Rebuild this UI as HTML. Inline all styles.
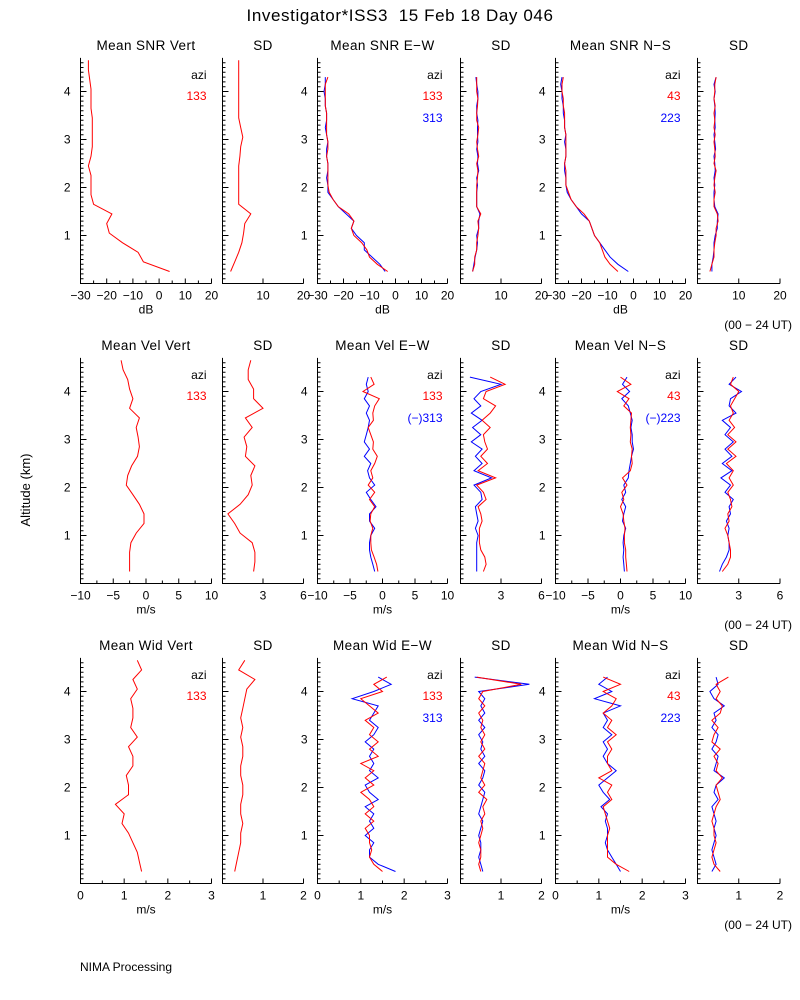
<!DOCTYPE html>
<html><head><meta charset="utf-8">
<style>
html,body{margin:0;padding:0;background:#fff;}
svg{display:block;font-family:"Liberation Sans",sans-serif;}
</style></head>
<body>
<svg id="chart" width="800" height="1000" viewBox="0 0 800 1000" xmlns="http://www.w3.org/2000/svg">
<rect width="800" height="1000" fill="#fff"/>
<text x="400" y="21" font-size="17" text-anchor="middle" letter-spacing="0.6" style="white-space:pre">Investigator*ISS3  15 Feb 18 Day 046</text>
<text x="30" y="490" font-size="13" text-anchor="middle" transform="rotate(-90 30 490)">Altitude (km)</text>
<text x="80" y="971" font-size="12">NIMA Processing</text>
</svg>
<script>
// altitude categories (km)
const altV = [0.25,0.45,0.65,0.85,1.05,1.25,1.45,1.65,1.85,2.05,2.25,2.45,2.65,2.85,3.05,3.25,3.45,3.65,3.85,4.05,4.25,4.45,4.65];
const altO = [0.25,0.4,0.55,0.7,0.85,1.0,1.15,1.3,1.45,1.6,1.75,1.9,2.05,2.2,2.35,2.5,2.65,2.8,2.95,3.1,3.25,3.4,3.55,3.7,3.85,4.0,4.15,4.3];

// Row 1: SNR (dB) and SD
const snrVert = [4,-6,-8,-14,-19,-20,-18,-25,-26,-26,-26,-27,-26,-25.5,-25.5,-25.5,-25.5,-26,-26,-26,-26.5,-27,-27];
const snrVertSD = [2,3,4,4.8,5.2,5.5,7,4,4,4,4,4,4.3,4.5,5,4.5,4,4,4,4,4,4,4];
const snrEW133 = [-3,-7,-10,-11,-13,-16,-17,-16,-18,-22,-24,-25.5,-26,-26,-26,-26,-26.5,-26,-26,-26.5,-26.5,-26.5,-26.5,-27,-27,-27,-27,-26];
const snrEW313 = [-4,-6,-9,-12,-12,-15,-17,-16,-19,-22,-24,-26,-26,-26.5,-26,-26,-26.5,-26.5,-26,-26.5,-27,-26.5,-26.5,-27,-27,-27.5,-27,-27];
const snrEWsd133 = [3,3.5,3.5,4,4,4.3,4.5,4.3,5,4,4,4,4,4.2,4.3,4,4.5,4.2,4,4.3,4.5,4,4,4.2,4.3,4,4,4];
const snrEWsd313 = [3,3.3,3.6,4,4.2,4,4.5,4.5,4.8,4,4,4,4.2,4,4.5,4.2,4.3,4,4.3,4.2,4.2,4.3,4,4,4.3,4.3,4,3.8];
const snrNS43 = [-6,-9,-11,-12,-13,-15,-16,-17,-19,-22,-24,-25,-26,-26,-26,-26.5,-26,-26,-26,-26,-26.5,-26.5,-26.5,-27,-27,-27.5,-27.5,-27];
const snrNS223 = [-2,-6,-9,-11,-13,-15,-16,-17,-20,-22,-24,-25.5,-26,-26,-26.5,-26.5,-26,-26,-26.5,-26,-26.5,-26.5,-27,-27,-27.5,-27.5,-28,-27.5];
const snrNSsd43 = [3,3.5,4,4,4.2,4.5,4.5,5,4.8,4,4,4.3,4,4.2,4.5,4,4.3,4.2,4,4.3,4,4.2,4,4.3,4,4.2,4.2,4.5];
const snrNSsd223 = [3.5,3.5,3.8,4,4,4.3,4.8,4.8,5,4.2,4,4,4.2,4,4.3,4.2,4,4.4,4.2,4,4.3,4.2,4.3,4.2,4,4.3,4,4.5];

// Row 2: velocity (m/s)
const velVert = [-2.5,-2.5,-2.5,-2.3,-1.5,-0.3,-0.3,-1,-2,-3,-2.8,-2.2,-1.3,-1,-1.2,-1.5,-1,-2.5,-2,-2.5,-2.8,-3.5,-3.8];
const velVertSD = [2.3,2.4,2.4,2.2,1.3,0.9,0.4,1.3,1.9,2.2,2.1,2.4,1.7,1.8,1.6,2.2,1.7,3,2.3,2.3,1.9,1.9,2.1];
const velEW133 = [-0.7,-0.9,-1.3,-1.7,-1.8,-1.8,-1.5,-1.9,-1.8,-1.2,-2,-1.2,-2.2,-1.5,-1.8,-1.2,-0.8,-1.5,-1.4,-1.8,-2.2,-1.4,-1.5,-1.2,-0.5,-3,-1.3,-1.8];
const velEW313 = [-1.2,-1.5,-1.8,-2,-2,-1.8,-1.2,-2,-2,-1,-1.8,-2.5,-1.2,-2,-2.3,-1.8,-2.8,-2,-2.8,-2.5,-2.2,-2,-2.5,-2,-2.8,-2.2,-2.5,-2.2];
const velEWsd133 = [1.7,1.9,1.8,1.5,1.4,1.4,1.4,1.6,1.5,1.3,1.9,1.7,1.2,2.6,1.3,2,1.5,2,1.8,1.7,2.2,1.6,2.2,2.6,1.7,1.9,3.3,2.2];
const velEWsd313 = [1.2,1.2,1.2,1.2,1.2,1.3,1.1,1.3,1.2,1.1,1.6,1.5,1,2.3,1,1.6,1.1,1.6,0.8,1.5,0.9,1.6,0.8,1.5,1,1.5,3,0.7];
const velNS43 = [1,0.9,0.8,0.8,0.6,0.6,0.7,0.5,0.4,0,0.5,0.2,1,0.3,1.5,1.8,1.7,1.8,1.5,1.6,1.5,1.6,1.7,0.5,1.3,-0.5,1.6,0];
const velNS223 = [0.6,0.5,0.4,0.5,0.4,0.5,0.8,0.3,0.5,0.8,0.2,0.8,0.5,1.2,1.3,1.5,1.7,2,1.8,1.8,1.6,1.8,1.5,1.2,0.2,1.4,0.3,1];
const velNSsd43 = [1.8,2.2,2.4,2.4,2.3,2.2,2,2.3,2.2,2.5,2.4,2.2,2.6,2.3,2.6,2.1,2.8,2.2,2.8,2.2,2.7,2.3,2.6,2.4,2.7,3,2.4,2.6];
const velNSsd223 = [1.6,1.8,2.1,2.3,2.3,2.2,2.3,2.1,2.4,2.3,2.6,2,2.4,1.7,2.5,1.8,2.5,2,2.6,2,2.4,1.8,2.8,2.3,2.4,3.2,2.3,2.8];

// Row 3: spectral width (m/s)
const widVert = [1.4,1.35,1.3,1.2,1.1,0.95,1.0,0.8,1.1,1.1,1.05,1.2,1.2,1.1,1.3,1.15,1.2,1.2,1.15,1.3,1.2,1.4,1.3];
const widVertSD = [0.3,0.35,0.4,0.45,0.45,0.5,0.45,0.45,0.5,0.5,0.45,0.45,0.5,0.5,0.45,0.5,0.45,0.5,0.55,0.6,0.8,0.4,0.55];
const widEW133 = [1.5,1.3,1.2,1.25,1.2,1.2,1.1,1.3,1.1,1.3,1.2,1.0,1.3,1.1,1.3,1.0,1.4,1.2,1.4,1.2,1.3,1.1,1.4,1.2,1.0,1.5,1.3,1.6];
const widEW313 = [1.8,1.4,1.2,1.2,1.3,1.1,1.3,1.2,1.3,1.1,1.4,1.2,1.1,1.4,1.2,1.3,1.2,1.3,1.1,1.3,1.4,1.2,1.3,1.4,0.8,1.3,1.7,1.4];
const widEWsd133 = [0.5,0.45,0.5,0.5,0.45,0.5,0.55,0.5,0.6,0.55,0.65,0.45,0.6,0.5,0.55,0.6,0.45,0.6,0.5,0.6,0.5,0.55,0.45,0.6,0.45,0.55,1.5,0.4];
const widEWsd313 = [0.55,0.5,0.45,0.5,0.5,0.45,0.5,0.55,0.45,0.5,0.55,0.6,0.45,0.55,0.6,0.45,0.6,0.5,0.55,0.45,0.6,0.45,0.6,0.5,0.6,0.45,1.7,0.35];
const widNS43 = [1.7,1.4,1.2,1.2,1.2,1.2,1.25,1.2,1.15,1.1,1.3,1.2,1.3,1.0,1.3,1.2,1.2,1.3,1.2,1.4,1.2,1.3,1.1,1.3,1.4,1.1,1.5,1.1];
const widNS223 = [1.5,1.4,1.3,1.2,1.15,1.2,1.2,1.15,1.2,1.05,1.25,1.1,1.0,1.2,1.4,1.2,1.1,1.2,1.1,1.3,1.1,1.2,1.1,1.5,0.9,1.3,1.0,1.2];
const widNSsd43 = [0.55,0.4,0.35,0.4,0.45,0.4,0.4,0.35,0.4,0.45,0.55,0.5,0.45,0.6,0.45,0.5,0.4,0.55,0.35,0.4,0.5,0.35,0.55,0.6,0.45,0.55,0.45,0.75];
const widNSsd223 = [0.35,0.45,0.4,0.35,0.4,0.45,0.4,0.45,0.4,0.35,0.5,0.4,0.45,0.65,0.4,0.45,0.5,0.35,0.45,0.5,0.35,0.45,0.4,0.65,0.4,0.3,0.5,0.45];

const xTicks1 = [-30,-20,-10,0,10,20];
const sdTicks1 = [10,20];
const xTicks2 = [-10,-5,0,5,10];
const sdTicks2 = [3,6];
const xTicks3 = [0,1,2,3];
const sdTicks3 = [1,2];

const NS = 'http://www.w3.org/2000/svg';
const svg = document.getElementById('chart');
function mk(tag, attrs, parent){
  const e = document.createElementNS(NS, tag);
  for (const k in attrs) e.setAttribute(k, attrs[k]);
  (parent||svg).appendChild(e);
  return e;
}

const panelX = [[80.5,211.5],[222.5,303.5],[317.5,447.5],[460.5,541.5],[555.5,685.5],[697.5,780]];
const rowBottom = [283.5,583.5,883.5];
const kmPx = 48;

function drawPanel(row, col, title, xmin, xmax, ticks, unit, series, legend){
  const g = mk('g', {});
  
  
  const [x0,x1] = panelX[col];
  const yb = rowBottom[row];
  const yt = yb - 4.7*kmPx;
  const sx = v => x0 + (v - xmin)/(xmax - xmin)*(x1 - x0);
  const sy = a => yb - a*kmPx;
  const t = mk('text', {x:(x0+x1)/2, y:yt-8, 'font-size':13.5, 'text-anchor':'middle', 'letter-spacing':0.4}, g);
  t.textContent = title;
  
  
  mk('path', {d:`M${x0},${yt}V${yb}H${x1}`, stroke:'#000', fill:'none', 'stroke-width':1}, g);
  let d = '';
  for (let i=1;i<=46;i++){ const y=sy(i/10); const len = i%10===0?6:3; d += `M${x0},${y}h${len}`; }
  for (let i=0;i<ticks.length;i++){ d += `M${sx(ticks[i])},${yb}v-5`; }
  const step = (ticks[1]-ticks[0])/ (col%2===0 ? 2 : 1);
  for (let v=xmin; v<=xmax+1e-9; v+=step){ d += `M${sx(v)},${yb}v-3`; }
  mk('path', {d, stroke:'#000', fill:'none', 'stroke-width':1}, g);
  if (col%2===0){
    [1,2,3,4].forEach(k=>{
      const tl = mk('text', {x:x0-10, y:sy(k)+4, 'font-size':12, 'text-anchor':'end'}, g);
      tl.textContent = k;
      
      
    });
  }
  ticks.forEach(v=>{
    const tl = mk('text', {x:sx(v), y:yb+16, 'font-size':12, 'text-anchor':'middle'}, g);
    tl.textContent = String(v).replace('-', '\u2212');
    
    
  });
  if (unit){
    const u = mk('text', {x:(x0+x1)/2, y:yb+30, 'font-size':12, 'text-anchor':'middle'}, g);
    u.textContent = unit;
    
    
  }
  series.forEach(s=>{
    const pts = s.vals.map((v,i)=>sx(v).toFixed(1)+','+sy(s.alt[i]).toFixed(1)).join(' ');
    const pl = mk('polyline', {points:pts, fill:'none', stroke:s.color, 'stroke-width':1}, g);
    
    
  });
  if (legend){
    const lx = x1 - 5;
    const a = mk('text', {x:lx, y:yt+21, 'font-size':12, 'text-anchor':'end'}, g);
    a.textContent = 'azi';
    
    
    legend.forEach((l,i)=>{
      const e = mk('text', {x:lx, y:yt+42+i*22, 'font-size':12, 'text-anchor':'end', fill:l[1]}, g);
      e.textContent = l[0];
      
      
    });
  }
}
const R='#ff0000', B='#0000ff';
// Row 1
drawPanel(0,0,'Mean SNR Vert',-30,20,xTicks1,'dB',[{alt:altV,vals:snrVert,color:R,name:'snr-vert-133'}],[['133',R]]);
drawPanel(0,1,'SD',0,20,sdTicks1,'',[{alt:altV,vals:snrVertSD,color:R,name:'snr-vert-sd-133'}]);
drawPanel(0,2,'Mean SNR E\u2212W',-30,20,xTicks1,'dB',[{alt:altO,vals:snrEW313,color:B,name:'snr-ew-313'},{alt:altO,vals:snrEW133,color:R,name:'snr-ew-133'}],[['133',R],['313',B]]);
drawPanel(0,3,'SD',0,20,sdTicks1,'',[{alt:altO,vals:snrEWsd313,color:B,name:'snr-ew-sd-313'},{alt:altO,vals:snrEWsd133,color:R,name:'snr-ew-sd-133'}]);
drawPanel(0,4,'Mean SNR N\u2212S',-30,20,xTicks1,'dB',[{alt:altO,vals:snrNS223,color:B,name:'snr-ns-223'},{alt:altO,vals:snrNS43,color:R,name:'snr-ns-43'}],[['43',R],['223',B]]);
drawPanel(0,5,'SD',0,20,sdTicks1,'',[{alt:altO,vals:snrNSsd223,color:B,name:'snr-ns-sd-223'},{alt:altO,vals:snrNSsd43,color:R,name:'snr-ns-sd-43'}]);
// Row 2
drawPanel(1,0,'Mean Vel Vert',-10,10,xTicks2,'m/s',[{alt:altV,vals:velVert,color:R,name:'vel-vert-133'}],[['133',R]]);
drawPanel(1,1,'SD',0,6,sdTicks2,'',[{alt:altV,vals:velVertSD,color:R,name:'vel-vert-sd-133'}]);
drawPanel(1,2,'Mean Vel E\u2212W',-10,10,xTicks2,'m/s',[{alt:altO,vals:velEW313,color:B,name:'vel-ew-313'},{alt:altO,vals:velEW133,color:R,name:'vel-ew-133'}],[['133',R],['(\u2212)313',B]]);
drawPanel(1,3,'SD',0,6,sdTicks2,'',[{alt:altO,vals:velEWsd313,color:B,name:'vel-ew-sd-313'},{alt:altO,vals:velEWsd133,color:R,name:'vel-ew-sd-133'}]);
drawPanel(1,4,'Mean Vel N\u2212S',-10,10,xTicks2,'m/s',[{alt:altO,vals:velNS223,color:B,name:'vel-ns-223'},{alt:altO,vals:velNS43,color:R,name:'vel-ns-43'}],[['43',R],['(\u2212)223',B]]);
drawPanel(1,5,'SD',0,6,sdTicks2,'',[{alt:altO,vals:velNSsd223,color:B,name:'vel-ns-sd-223'},{alt:altO,vals:velNSsd43,color:R,name:'vel-ns-sd-43'}]);
// Row 3
drawPanel(2,0,'Mean Wid Vert',0,3,xTicks3,'m/s',[{alt:altV,vals:widVert,color:R,name:'wid-vert-133'}],[['133',R]]);
drawPanel(2,1,'SD',0,2,sdTicks3,'',[{alt:altV,vals:widVertSD,color:R,name:'wid-vert-sd-133'}]);
drawPanel(2,2,'Mean Wid E\u2212W',0,3,xTicks3,'m/s',[{alt:altO,vals:widEW313,color:B,name:'wid-ew-313'},{alt:altO,vals:widEW133,color:R,name:'wid-ew-133'}],[['133',R],['313',B]]);
drawPanel(2,3,'SD',0,2,sdTicks3,'',[{alt:altO,vals:widEWsd313,color:B,name:'wid-ew-sd-313'},{alt:altO,vals:widEWsd133,color:R,name:'wid-ew-sd-133'}]);
drawPanel(2,4,'Mean Wid N\u2212S',0,3,xTicks3,'m/s',[{alt:altO,vals:widNS223,color:B,name:'wid-ns-223'},{alt:altO,vals:widNS43,color:R,name:'wid-ns-43'}],[['43',R],['223',B]]);
drawPanel(2,5,'SD',0,2,sdTicks3,'',[{alt:altO,vals:widNSsd223,color:B,name:'wid-ns-sd-223'},{alt:altO,vals:widNSsd43,color:R,name:'wid-ns-sd-43'}]);

[329,629,929].forEach(y=>{
  const t = mk('text', {x:792, y:y, 'font-size':12, 'text-anchor':'end'});
  t.textContent = '(00 \u2212 24 UT)';
  
  
});
</script>
</body></html>
